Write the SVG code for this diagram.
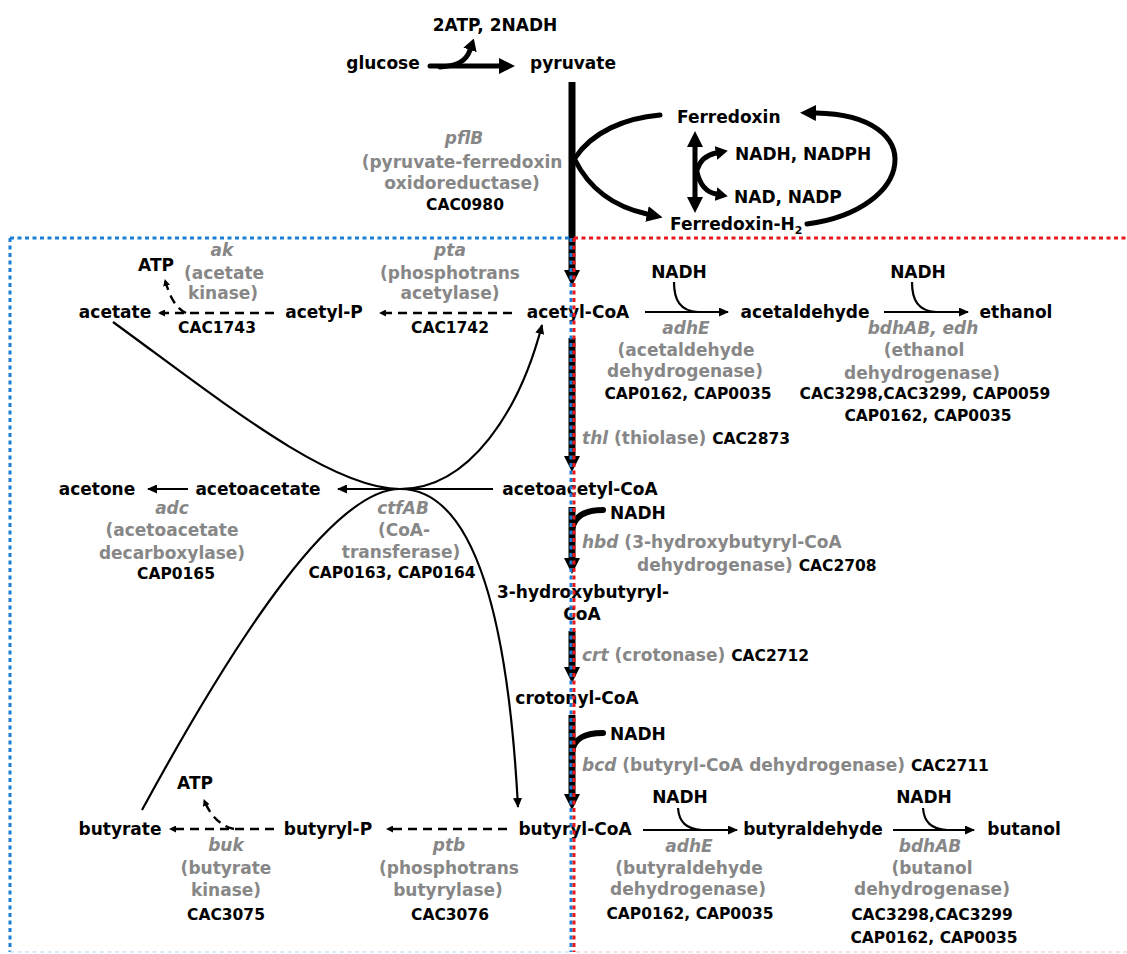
<svg xmlns="http://www.w3.org/2000/svg" width="1127" height="954" viewBox="0 0 1127 954">
<style>
text{font-family:"DejaVu Sans",Verdana,"Liberation Sans",sans-serif;font-weight:bold;font-size:17px;fill:#000}
.m{text-anchor:middle}
.g{fill:#878787}
.i{font-style:italic}
.c{font-size:15.5px}
.thick{fill:none;stroke:#000;stroke-linecap:round}
.thin{fill:none;stroke:#000;stroke-width:2.2}
.dash{fill:none;stroke:#000;stroke-width:2.4;stroke-dasharray:9 6}
</style>
<defs>
<marker id="ab" markerUnits="userSpaceOnUse" markerWidth="16" markerHeight="16" refX="0" refY="8" orient="auto-start-reverse"><path d="M0,0 L16,8 L0,16 z" fill="#000"/></marker>
<marker id="am" markerUnits="userSpaceOnUse" markerWidth="12" markerHeight="14" refX="0" refY="7" orient="auto"><path d="M0,0 L12,7 L0,14 z" fill="#000"/></marker>
<marker id="as" markerUnits="userSpaceOnUse" markerWidth="10" markerHeight="9" refX="9" refY="4.5" orient="auto"><path d="M0,0 L10,4.5 L0,9 z" fill="#000"/></marker>
<marker id="ad" markerUnits="userSpaceOnUse" markerWidth="7" markerHeight="7" refX="6" refY="3.5" orient="auto"><path d="M0,0 L7,3.5 L0,7 z" fill="#000"/></marker>
</defs>
<rect width="1127" height="954" fill="#fff"/>

<g id="connectors">
  <!-- glycolysis -->
  <path class="thick" stroke-width="5" d="M430,66 L499,66" marker-end="url(#ab)"/>
  <path class="thick" stroke-width="5" d="M440,67 C456,66 466,62 470,50" marker-end="url(#am)"/>
  <!-- main vertical -->
  <g stroke="#000" stroke-width="7" fill="none">
    <path d="M572,82 L572,271"/>
    <path d="M572,338 L572,457"/>
    <path d="M572,507 L572,559"/>
    <path d="M572,631 L572,668"/>
    <path d="M572,715 L572,795"/>
  </g>
  <g fill="#000">
    <polygon points="564,270 580,270 572,286"/>
    <polygon points="564,456 580,456 572,472"/>
    <polygon points="564,558 580,558 572,574"/>
    <polygon points="564,667 580,667 572,683"/>
    <polygon points="564,794 580,794 572,810"/>
  </g>
  <path class="thick" stroke-width="6" d="M572,530 C574,516 585,510 603,510"/>
  <path class="thick" stroke-width="6" d="M572,752 C574,738 585,733 603,733"/>
  <!-- ferredoxin cycle -->
  <path class="thick" stroke-width="5" d="M575,158 C592,132 625,118 660,115"/>
  <path class="thick" stroke-width="5" d="M575,160 C590,190 615,207 647,214" marker-end="url(#ab)"/>
  <path class="thick" stroke-width="5" d="M807,224 C915,210 930,115 816,113" marker-end="url(#ab)"/>
  <path class="thick" stroke-width="5" stroke-linecap="butt" d="M695,147 L695,197" marker-start="url(#ab)" marker-end="url(#ab)"/>
  <path class="thick" stroke-width="5" d="M697,170 C700,160 706,155 716,153" marker-end="url(#am)"/>
  <path class="thick" stroke-width="5" d="M697,172 C700,185 706,192 716,194" marker-end="url(#am)"/>
  <!-- acetate branch -->
  <path class="dash" d="M512,313 L380,313" marker-end="url(#ad)"/>
  <path class="dash" d="M274,313 L159,313" marker-end="url(#ad)"/>
  <path class="dash" d="M186,313 C176,308 170,298 165,280" marker-end="url(#ad)"/>
  <!-- ethanol branch -->
  <path class="thin" d="M645,312 L728,312" marker-end="url(#as)"/>
  <path class="thin" d="M674,282 C674,300 680,311 698,312"/>
  <path class="thin" d="M884,312 L968,312" marker-end="url(#as)"/>
  <path class="thin" d="M912,282 C912,300 918,311 936,312"/>
  <!-- acetone branch -->
  <path class="thin" stroke-width="2.6" d="M493,489 L338,489" marker-end="url(#as)"/>
  <path class="thin" stroke-width="2.6" d="M188,489 L148,489" marker-end="url(#as)"/>
  <path class="thin" d="M113,322 C220,400 330,489 400,489 C470,489 520,410 542,325" marker-end="url(#as)"/>
  <path class="thin" d="M142,810 C240,630 335,489 400,489 C455,489 505,560 518,807" marker-end="url(#as)"/>
  <!-- butyrate branch -->
  <path class="dash" d="M507,829 L387,829" marker-end="url(#ad)"/>
  <path class="dash" d="M274,829 L170,829" marker-end="url(#ad)"/>
  <path class="dash" d="M234,829 C220,826 210,815 204,800" marker-end="url(#ad)"/>
  <!-- butanol branch -->
  <path class="thin" d="M643,830 L737,830" marker-end="url(#as)"/>
  <path class="thin" d="M678,808 C679,822 686,829 702,830"/>
  <path class="thin" d="M893,830 L974,830" marker-end="url(#as)"/>
  <path class="thin" d="M923,808 C924,822 931,829 947,830"/>
</g>

<g id="n-atp1"><text class="m" x="495" y="31">2ATP, 2NADH</text></g>
<g id="n-glucose"><text class="m" x="383" y="69">glucose</text></g>
<g id="n-pyruvate"><text class="m" x="573" y="69">pyruvate</text></g>
<g id="e-pflB">
  <text class="m g i" x="464" y="144">pflB</text>
  <text class="m g" x="462" y="168">(pyruvate-ferredoxin</text>
  <text class="m g" x="462" y="189">oxidoreductase)</text>
  <text class="m c" x="465" y="210">CAC0980</text>
</g>
<g id="n-ferredoxin"><text x="677" y="123">Ferredoxin</text></g>
<g id="n-nadh-nadph"><text x="735" y="160">NADH, NADPH</text></g>
<g id="n-nad-nadp"><text x="734" y="203">NAD, NADP</text></g>
<g id="n-ferredoxin-h2"><text x="670" y="230">Ferredoxin-H<tspan font-size="11" dy="4">2</tspan></text></g>

<g id="n-acetate"><text class="m" x="115" y="318">acetate</text></g>
<g id="n-acetyl-p"><text class="m" x="324" y="318">acetyl-P</text></g>
<g id="n-acetyl-coa"><text class="m" x="578" y="318">acetyl-CoA</text></g>
<g id="n-acetaldehyde"><text class="m" x="805" y="318">acetaldehyde</text></g>
<g id="n-ethanol"><text class="m" x="1016" y="318">ethanol</text></g>
<g id="n-atp-ak"><text class="m" x="156" y="271">ATP</text></g>
<g id="e-ak">
  <text class="m g i" x="222" y="256">ak</text>
  <text class="m g" x="224" y="279">(acetate</text>
  <text class="m g" x="223" y="299">kinase)</text>
  <text class="m c" x="217" y="333">CAC1743</text>
</g>
<g id="e-pta">
  <text class="m g i" x="450" y="256">pta</text>
  <text class="m g" x="450" y="279">(phosphotrans</text>
  <text class="m g" x="450" y="299">acetylase)</text>
  <text class="m c" x="450" y="333">CAC1742</text>
</g>
<g id="n-nadh-1"><text class="m" x="679" y="278">NADH</text></g>
<g id="n-nadh-2"><text class="m" x="918" y="278">NADH</text></g>
<g id="e-adhE-1">
  <text class="m g i" x="686" y="334">adhE</text>
  <text class="m g" x="686" y="356">(acetaldehyde</text>
  <text class="m g" x="685" y="377">dehydrogenase)</text>
  <text class="m c" x="688" y="399">CAP0162, CAP0035</text>
</g>
<g id="e-bdhAB-edh">
  <text class="m g i" x="923" y="334">bdhAB, edh</text>
  <text class="m g" x="924" y="356">(ethanol</text>
  <text class="m g" x="922" y="379">dehydrogenase)</text>
  <text class="m c" x="925" y="399">CAC3298,CAC3299, CAP0059</text>
  <text class="m c" x="928" y="421">CAP0162, CAP0035</text>
</g>
<g id="e-thl"><text x="582" y="444"><tspan class="g i">thl</tspan><tspan class="g"> (thiolase) </tspan><tspan class="c">CAC2873</tspan></text></g>

<g id="n-acetone"><text class="m" x="97" y="495">acetone</text></g>
<g id="n-acetoacetate"><text class="m" x="258" y="495">acetoacetate</text></g>
<g id="n-acetoacetyl-coa"><text class="m" x="580" y="495">acetoacetyl-CoA</text></g>
<g id="e-adc">
  <text class="m g i" x="172" y="514">adc</text>
  <text class="m g" x="172" y="536">(acetoacetate</text>
  <text class="m g" x="172" y="559">decarboxylase)</text>
  <text class="m c" x="176" y="579">CAP0165</text>
</g>
<g id="e-ctfAB">
  <text class="m g i" x="403" y="514">ctfAB</text>
  <text class="m g" x="404" y="536">(CoA-</text>
  <text class="m g" x="401" y="558">transferase)</text>
  <text class="m c" x="392" y="578">CAP0163, CAP0164</text>
</g>
<g id="n-nadh-3"><text x="610" y="519">NADH</text></g>
<g id="e-hbd">
  <text x="582" y="548"><tspan class="g i">hbd</tspan><tspan class="g"> (3-hydroxybutyryl-CoA</tspan></text>
  <text x="637" y="571"><tspan class="g">dehydrogenase) </tspan><tspan class="c">CAC2708</tspan></text>
</g>
<g id="n-3-hydroxybutyryl-coa">
  <text class="m" x="583" y="598">3-hydroxybutyryl-</text>
  <text class="m" x="582" y="620">CoA</text>
</g>
<g id="e-crt"><text x="582" y="661"><tspan class="g i">crt</tspan><tspan class="g"> (crotonase) </tspan><tspan class="c">CAC2712</tspan></text></g>
<g id="n-crotonyl-coa"><text class="m" x="577" y="704">crotonyl-CoA</text></g>
<g id="n-nadh-4"><text x="610" y="740">NADH</text></g>
<g id="e-bcd"><text x="582" y="771"><tspan class="g i">bcd</tspan><tspan class="g"> (butyryl-CoA dehydrogenase) </tspan><tspan class="c">CAC2711</tspan></text></g>

<g id="n-butyrate"><text class="m" x="120" y="835">butyrate</text></g>
<g id="n-butyryl-p"><text class="m" x="328" y="835">butyryl-P</text></g>
<g id="n-butyryl-coa"><text class="m" x="575" y="835">butyryl-CoA</text></g>
<g id="n-butyraldehyde"><text class="m" x="813" y="835">butyraldehyde</text></g>
<g id="n-butanol"><text class="m" x="1024" y="835">butanol</text></g>
<g id="n-atp-buk"><text class="m" x="195" y="789">ATP</text></g>
<g id="e-buk">
  <text class="m g i" x="226" y="851">buk</text>
  <text class="m g" x="226" y="874">(butyrate</text>
  <text class="m g" x="226" y="896">kinase)</text>
  <text class="m c" x="226" y="920">CAC3075</text>
</g>
<g id="e-ptb">
  <text class="m g i" x="449" y="851">ptb</text>
  <text class="m g" x="449" y="874">(phosphotrans</text>
  <text class="m g" x="448" y="896">butyrylase)</text>
  <text class="m c" x="450" y="920">CAC3076</text>
</g>
<g id="n-nadh-5"><text class="m" x="680" y="803">NADH</text></g>
<g id="n-nadh-6"><text class="m" x="924" y="803">NADH</text></g>
<g id="e-adhE-2">
  <text class="m g i" x="689" y="852">adhE</text>
  <text class="m g" x="689" y="874">(butyraldehyde</text>
  <text class="m g" x="688" y="895">dehydrogenase)</text>
  <text class="m c" x="690" y="919">CAP0162, CAP0035</text>
</g>
<g id="e-bdhAB">
  <text class="m g i" x="930" y="852">bdhAB</text>
  <text class="m g" x="932" y="874">(butanol</text>
  <text class="m g" x="932" y="895">dehydrogenase)</text>
  <text class="m c" x="932" y="920">CAC3298,CAC3299</text>
  <text class="m c" x="934" y="943">CAP0162, CAP0035</text>
</g>

<g id="regions" fill="none" stroke-width="3" stroke-dasharray="4 3.5">
  <path d="M10,238 L571,238 M10,238 L10,952 M571,238 L571,952" stroke="#1a7fd4"/>
  <path d="M574,238 L1127,238 M574,238 L574,952" stroke="#e8181d"/>
  <path d="M10,952 L571,952" stroke="#cfe2f3" stroke-width="1.5"/>
  <path d="M576,952 L1127,952" stroke="#f6d3d4" stroke-width="1.5"/>
</g>
</svg>
